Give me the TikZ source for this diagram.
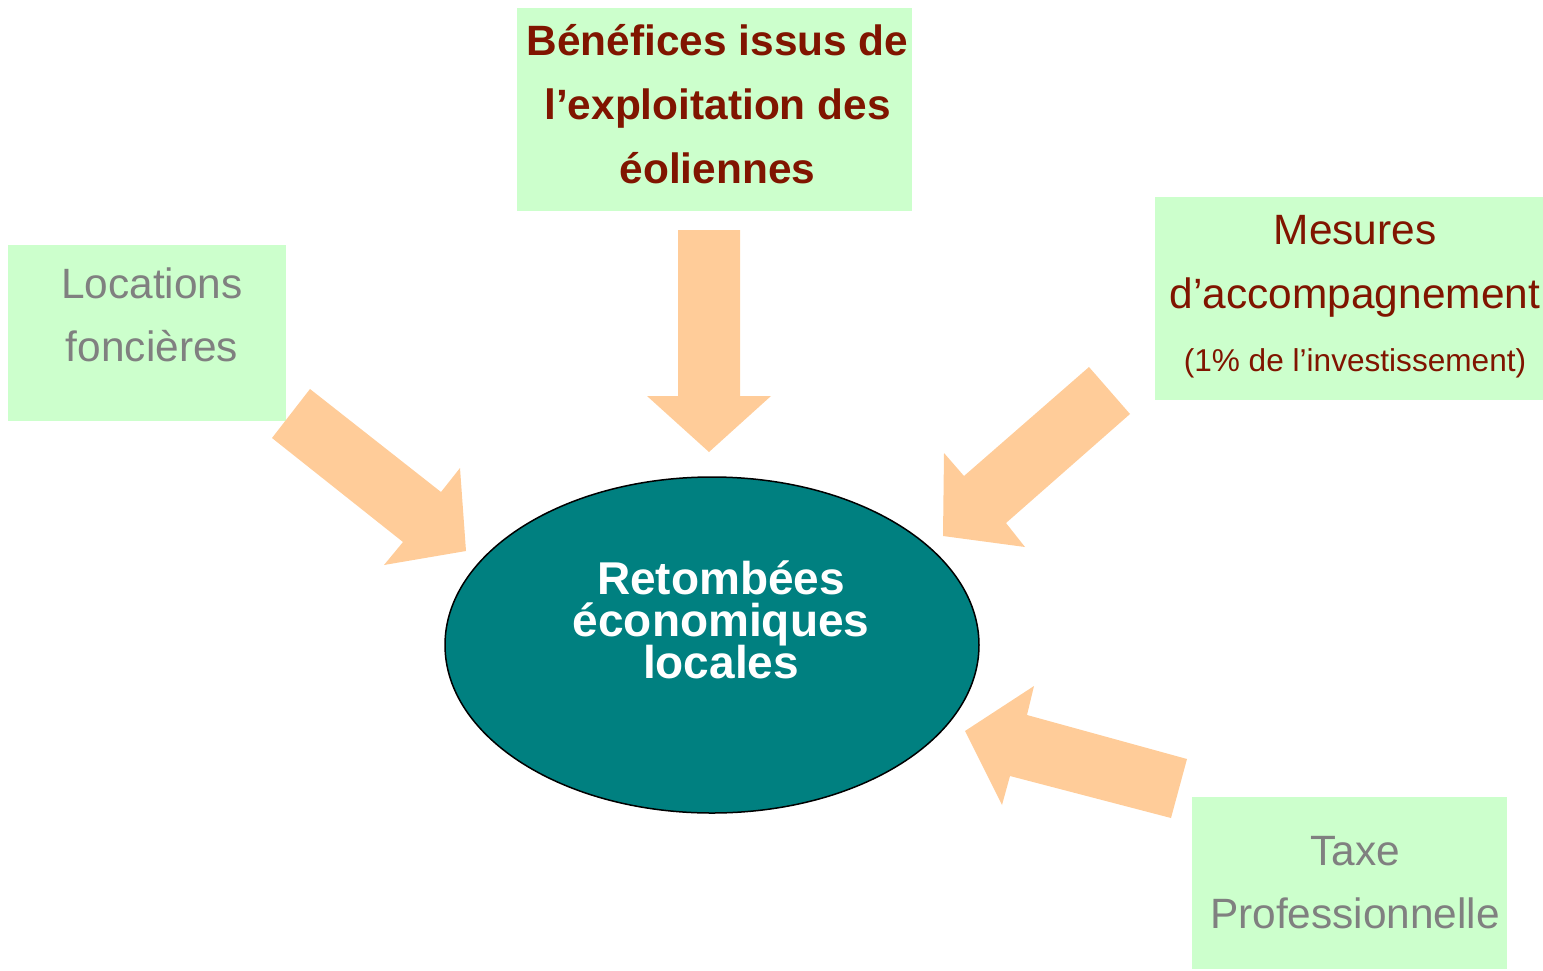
\documentclass[tikz,border=0pt]{standalone}
\usepackage{fontspec}
\setmainfont{Liberation Sans}
\usetikzlibrary{shapes.geometric}
\definecolor{boxgreen}{HTML}{CCFFCC}
\definecolor{arrowpeach}{HTML}{FFCC99}
\definecolor{tealfill}{HTML}{008080}
\definecolor{darkred}{RGB}{128,21,0}
\definecolor{greytext}{HTML}{808080}
\newcommand{\mytightlines}{\lineskiplimit=-100pt\relax}
\begin{document}
\begin{tikzpicture}[x=1pt,y=-1pt,
  greenbox/.style={rectangle, fill=boxgreen, draw=none, inner sep=0pt},
  bigarrow/.style={fill=arrowpeach, draw=none},
  lbl/.style={align=center, inner sep=0pt, anchor=base},
  regtext/.style={font=\fontsize{42.4}{63.3}\selectfont},
  boldtext/.style={font=\fontsize{42.4}{64}\selectfont\bfseries},
]
\useasboundingbox (0,0) rectangle (1543,970);

% boxes
\node[greenbox, minimum width=395pt, minimum height=203pt] (benefbox) at (714.5,109.5) {};
\node[greenbox, minimum width=278pt, minimum height=176pt] (locbox) at (147,333) {};
\node[greenbox, minimum width=388pt, minimum height=203pt] (mesbox) at (1349,298.5) {};
\node[greenbox, minimum width=315pt, minimum height=172pt] (taxbox) at (1349.5,883) {};

% labels (anchor = baseline of last line)
\node[lbl, boldtext, text=darkred] (benef) at (717.5,183) {Bénéfices issus de\\l’exploitation des\\éoliennes};
\node[lbl, regtext, text=greytext] (loc) at (152,361.5) {Locations\\foncières};
\node[lbl, regtext, text=darkred] (mes) at (1355,371.5) {Mesures\\d’accompagnement\\{\fontsize{31.6}{63.3}\selectfont (1\% de l’investissement)}};
\node[lbl, regtext, text=greytext] (tax) at (1355,928.5) {Taxe\\Professionnelle};

% block arrows
\fill[bigarrow] (678,230) -- (740,230) -- (740,396) -- (771,396) -- (709,452) -- (647,396) -- (678,396) -- cycle;
\fill[bigarrow] (310,389) -- (441,492) -- (460,468) -- (466,551) -- (384,565) -- (403,542) -- (272,438) -- cycle;
\fill[bigarrow] (1089,367) -- (1130,414) -- (1006,523) -- (1025,547) -- (943,536) -- (944,453) -- (964,476) -- cycle;
\fill[bigarrow] (1187,759) -- (1171,818) -- (1010,776) -- (1002,805) -- (965,731) -- (1034,686) -- (1027,715) -- cycle;

% central ellipse
\node[ellipse, draw=black, line width=1.5pt, fill=tealfill, minimum width=534pt, minimum height=336pt, inner sep=0pt] (retomb) at (712,645) {};
\node[lbl, text=white, font=\fontsize{46}{42}\selectfont\bfseries\mytightlines] (retlbl) at (721,678.5) {Retombées\\économiques\\locales};
\end{tikzpicture}
\end{document}
